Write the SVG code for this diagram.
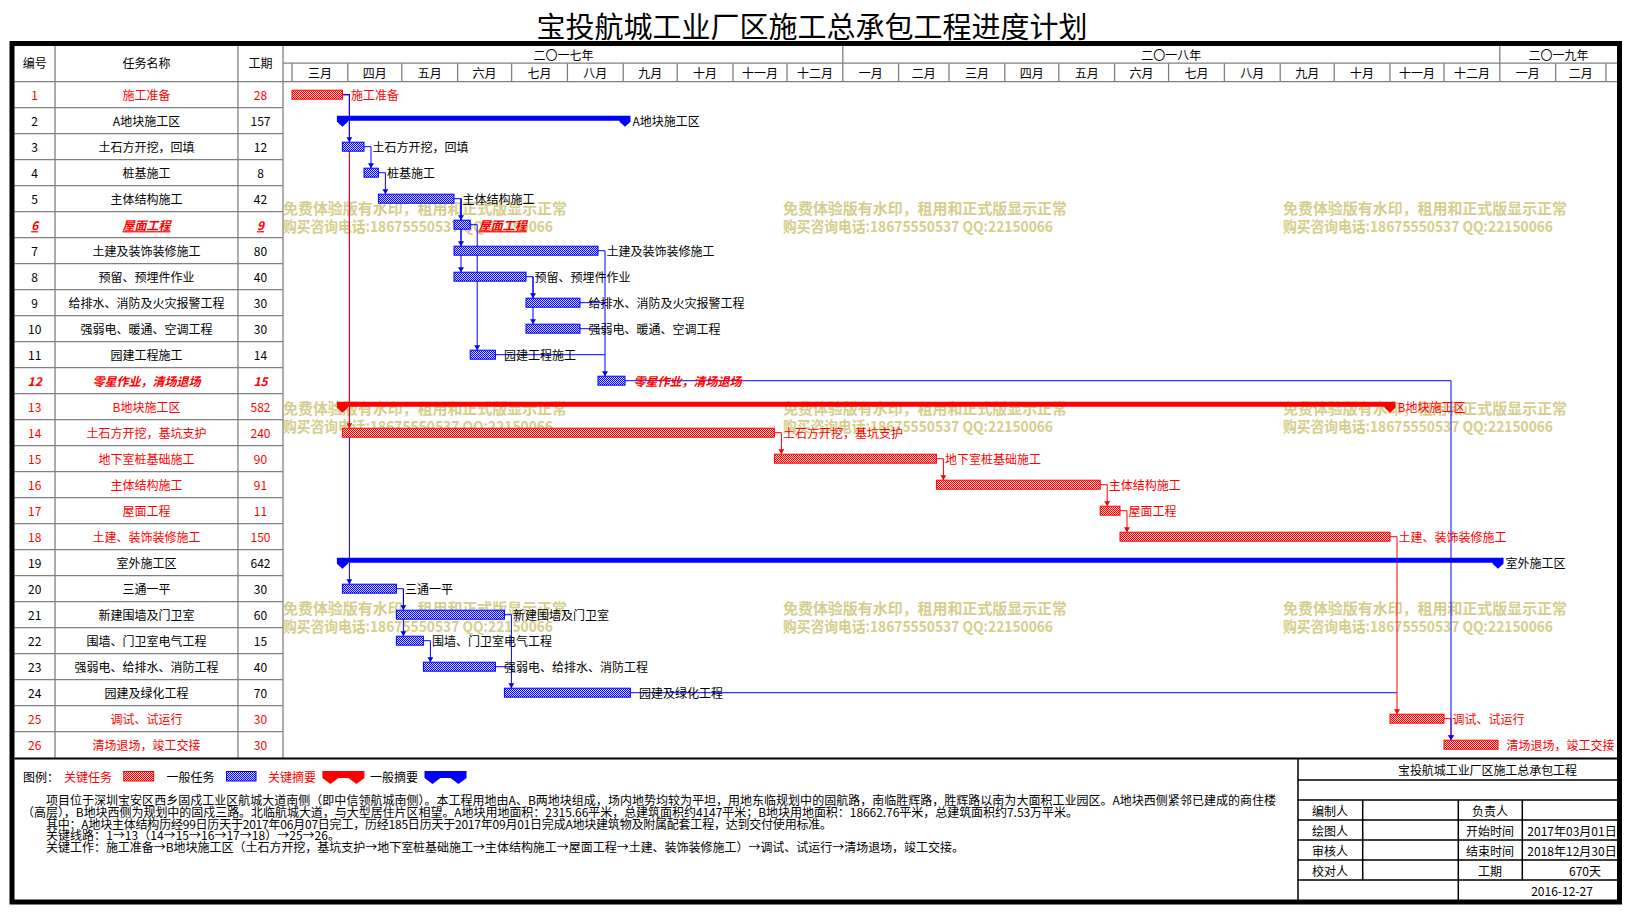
<svg xmlns="http://www.w3.org/2000/svg" width="1627" height="912" viewBox="0 0 1627 912">
<defs>
<style>
text{font-family:"Noto Sans CJK SC","Liberation Sans",sans-serif;font-size:12px;fill:#000;dominant-baseline:central}
.c{text-anchor:middle}
.r{fill:#f00}
.bi{font-weight:bold;font-style:italic}
.u{text-decoration:underline}
.grid{stroke:#808080;stroke-width:1.3;fill:none}
.blk{stroke:#000;stroke-width:1.5;fill:none}
.lb{stroke:#00f;stroke-width:1;fill:none}
.lr{stroke:#f00;stroke-width:1;fill:none}
.ab{marker-end:url(#ab)}
.ar{marker-end:url(#ar)}
.tr{fill:url(#pr);stroke:#f00;stroke-width:1}
.tb{fill:url(#pb);stroke:#00f;stroke-width:1}
.sr{fill:#f00}
.sb{fill:#00f}
.wm{fill:#d6ce8c;font-size:15px;font-weight:bold}
.title{font-size:29px}
</style>
<pattern id="pr" width="2" height="2" patternUnits="userSpaceOnUse"><rect width="2" height="2" fill="#ffd6d6"/><rect width="1" height="1" fill="#f00"/><rect x="1" y="1" width="1" height="1" fill="#f00"/></pattern>
<pattern id="pb" width="2" height="2" patternUnits="userSpaceOnUse"><rect width="2" height="2" fill="#d6d6ff"/><rect width="1" height="1" fill="#00f"/><rect x="1" y="1" width="1" height="1" fill="#00f"/></pattern>
<marker id="ab" viewBox="0 0 10 12" refX="10" refY="6" markerWidth="5" markerHeight="6" markerUnits="userSpaceOnUse" orient="auto"><path d="M0,0 L10,6 L0,12 z" fill="#00f"/></marker>
<marker id="ar" viewBox="0 0 10 12" refX="10" refY="6" markerWidth="5" markerHeight="6" markerUnits="userSpaceOnUse" orient="auto"><path d="M0,0 L10,6 L0,12 z" fill="#f00"/></marker>
</defs>
<rect width="1627" height="912" fill="#fff"/>
<text class="title c" x="812" y="24.5">宝投航城工业厂区施工总承包工程进度计划</text>

<g id="grid">
<path class="grid" d="M55,46 V758 M238,46 V758 M283,46 V758 M14.5,81.7 H1617 M283,63.2 H1617"/>
<path class="grid" d="M14.5,107.7 H283 M14.5,133.7 H283 M14.5,159.7 H283 M14.5,185.7 H283 M14.5,211.7 H283 M14.5,237.7 H283 M14.5,263.7 H283 M14.5,289.7 H283 M14.5,315.7 H283 M14.5,341.7 H283 M14.5,367.7 H283 M14.5,393.7 H283 M14.5,419.7 H283 M14.5,445.7 H283 M14.5,471.7 H283 M14.5,497.7 H283 M14.5,523.7 H283 M14.5,549.7 H283 M14.5,575.7 H283 M14.5,601.7 H283 M14.5,627.7 H283 M14.5,653.7 H283 M14.5,679.7 H283 M14.5,705.7 H283 M14.5,731.7 H283"/>
<path class="grid" d="M292,63.2 V81.7 M347.8,63.2 V81.7 M401.8,63.2 V81.7 M457.6,63.2 V81.7 M511.6,63.2 V81.7 M567.4,63.2 V81.7 M623.2,63.2 V81.7 M677.2,63.2 V81.7 M733,63.2 V81.7 M787,63.2 V81.7 M842.8,46 V81.7 M898.6,63.2 V81.7 M949,63.2 V81.7 M1004.8,63.2 V81.7 M1058.8,63.2 V81.7 M1114.6,63.2 V81.7 M1168.6,63.2 V81.7 M1224.4,63.2 V81.7 M1280.2,63.2 V81.7 M1334.2,63.2 V81.7 M1390,63.2 V81.7 M1444,63.2 V81.7 M1499.8,46 V81.7 M1555.6,63.2 V81.7 M1606,63.2 V81.7"/>
<text class="c" x="34.7" y="62.8">编号</text>
<text class="c" x="146.5" y="62.8">任务名称</text>
<text class="c" x="260.5" y="62.8">工期</text>
<text class="c" x="563.4" y="54.6">二〇一七年</text>
<text class="c" x="1171.3" y="54.6">二〇一八年</text>
<text class="c" x="1558.4" y="54.6">二〇一九年</text>
<text class="c" x="319.9" y="72.5">三月</text>
<text class="c" x="374.8" y="72.5">四月</text>
<text class="c" x="429.7" y="72.5">五月</text>
<text class="c" x="484.6" y="72.5">六月</text>
<text class="c" x="539.5" y="72.5">七月</text>
<text class="c" x="595.3" y="72.5">八月</text>
<text class="c" x="650.2" y="72.5">九月</text>
<text class="c" x="705.1" y="72.5">十月</text>
<text class="c" x="760" y="72.5">十一月</text>
<text class="c" x="814.9" y="72.5">十二月</text>
<text class="c" x="870.7" y="72.5">一月</text>
<text class="c" x="923.8" y="72.5">二月</text>
<text class="c" x="976.9" y="72.5">三月</text>
<text class="c" x="1031.8" y="72.5">四月</text>
<text class="c" x="1086.7" y="72.5">五月</text>
<text class="c" x="1141.6" y="72.5">六月</text>
<text class="c" x="1196.5" y="72.5">七月</text>
<text class="c" x="1252.3" y="72.5">八月</text>
<text class="c" x="1307.2" y="72.5">九月</text>
<text class="c" x="1362.1" y="72.5">十月</text>
<text class="c" x="1417" y="72.5">十一月</text>
<text class="c" x="1471.9" y="72.5">十二月</text>
<text class="c" x="1527.7" y="72.5">一月</text>
<text class="c" x="1580.8" y="72.5">二月</text>
</g>

<g id="watermarks">
<text class="wm" x="283" y="207.5" textLength="284" lengthAdjust="spacingAndGlyphs">免费体验版有水印，租用和正式版显示正常</text>
<text class="wm" x="283" y="225" textLength="270" lengthAdjust="spacingAndGlyphs">购买咨询电话:18675550537 QQ:22150066</text>
<text class="wm" x="783" y="207.5" textLength="284" lengthAdjust="spacingAndGlyphs">免费体验版有水印，租用和正式版显示正常</text>
<text class="wm" x="783" y="225" textLength="270" lengthAdjust="spacingAndGlyphs">购买咨询电话:18675550537 QQ:22150066</text>
<text class="wm" x="1283" y="207.5" textLength="284" lengthAdjust="spacingAndGlyphs">免费体验版有水印，租用和正式版显示正常</text>
<text class="wm" x="1283" y="225" textLength="270" lengthAdjust="spacingAndGlyphs">购买咨询电话:18675550537 QQ:22150066</text>
<text class="wm" x="283" y="407.5" textLength="284" lengthAdjust="spacingAndGlyphs">免费体验版有水印，租用和正式版显示正常</text>
<text class="wm" x="283" y="425" textLength="270" lengthAdjust="spacingAndGlyphs">购买咨询电话:18675550537 QQ:22150066</text>
<text class="wm" x="783" y="407.5" textLength="284" lengthAdjust="spacingAndGlyphs">免费体验版有水印，租用和正式版显示正常</text>
<text class="wm" x="783" y="425" textLength="270" lengthAdjust="spacingAndGlyphs">购买咨询电话:18675550537 QQ:22150066</text>
<text class="wm" x="1283" y="407.5" textLength="284" lengthAdjust="spacingAndGlyphs">免费体验版有水印，租用和正式版显示正常</text>
<text class="wm" x="1283" y="425" textLength="270" lengthAdjust="spacingAndGlyphs">购买咨询电话:18675550537 QQ:22150066</text>
<text class="wm" x="283" y="607.5" textLength="284" lengthAdjust="spacingAndGlyphs">免费体验版有水印，租用和正式版显示正常</text>
<text class="wm" x="283" y="625" textLength="270" lengthAdjust="spacingAndGlyphs">购买咨询电话:18675550537 QQ:22150066</text>
<text class="wm" x="783" y="607.5" textLength="284" lengthAdjust="spacingAndGlyphs">免费体验版有水印，租用和正式版显示正常</text>
<text class="wm" x="783" y="625" textLength="270" lengthAdjust="spacingAndGlyphs">购买咨询电话:18675550537 QQ:22150066</text>
<text class="wm" x="1283" y="607.5" textLength="284" lengthAdjust="spacingAndGlyphs">免费体验版有水印，租用和正式版显示正常</text>
<text class="wm" x="1283" y="625" textLength="270" lengthAdjust="spacingAndGlyphs">购买咨询电话:18675550537 QQ:22150066</text>
</g>

<g id="connectors">
<path class="lb ab" d="M342.4,94.7 H349.4 V584.2"/>
<path class="lr ar" d="M342.4,94.7 H349.4 V428.2"/>
<path class="lb ab" d="M342.4,94.7 H349.4 V142.2"/>
<path class="lb ab" d="M364,146.7 H371 V168.2"/>
<path class="lb ab" d="M378.4,172.7 H385.4 V194.2"/>
<path class="lb ab" d="M454,198.7 H461 V220.2"/>
<path class="lb ab" d="M461,198.7 V246.2"/>
<path class="lb ab" d="M461,198.7 V272.2"/>
<path class="lb ab" d="M470.2,224.7 H477.2 V350.2"/>
<path class="lb ab" d="M526,276.7 H533 V298.2"/>
<path class="lb ab" d="M533,276.7 V324.2"/>
<path class="lb ab" d="M598,250.7 H605 V376.2"/>
<path class="lb" d="M580,302.7 H605 M580,328.7 H605 M495.4,354.7 H605"/>
<path class="lr ar" d="M1444,718.7 H1451 V740.2"/>
<path class="lb ab" d="M625,380.7 H1451 V740.2"/>
<path class="lr ar" d="M774.4,432.7 H781.4 V454.2"/>
<path class="lr ar" d="M936.4,458.7 H943.4 V480.2"/>
<path class="lr ar" d="M1100.2,484.7 H1107.2 V506.2"/>
<path class="lr ar" d="M1120,510.7 H1127 V532.2"/>
<path class="lb ab" d="M396.4,588.7 H403.4 V610.2"/>
<path class="lb ab" d="M403.4,588.7 V636.2"/>
<path class="lb ab" d="M423.4,640.7 H430.4 V662.2"/>
<path class="lb ab" d="M504.4,614.7 H511.4 V688.2"/>
<path class="lb" d="M495.4,666.7 H511.4 M630.4,692.7 H1397"/>
<path class="lr ar" d="M1390,536.7 H1397 V714.2"/>
</g>

<g id="row-1"><text class="c r" x="34.7" y="94.7">1</text><text class="c r" x="146.5" y="94.7">施工准备</text><text class="c r" x="260.5" y="94.7">28</text><rect class="tr" x="292" y="90.2" width="50.4" height="9"/><text class="r" x="350.9" y="94.7">施工准备</text></g>
<g id="row-2"><text class="c" x="34.7" y="120.7">2</text><text class="c" x="146.5" y="120.7">A地块施工区</text><text class="c" x="260.5" y="120.7">157</text><path class="sb" d="M336.9,115.7 H630.5 V121.7 L625,126.7 L619.5,121.7 V120.7 H347.9 V121.7 L342.4,126.7 L336.9,121.7 Z"/><text x="632.5" y="120.7">A地块施工区</text></g>
<g id="row-3"><text class="c" x="34.7" y="146.7">3</text><text class="c" x="146.5" y="146.7">土石方开挖，回填</text><text class="c" x="260.5" y="146.7">12</text><rect class="tb" x="342.4" y="142.2" width="21.6" height="9"/><text x="372.5" y="146.7">土石方开挖，回填</text></g>
<g id="row-4"><text class="c" x="34.7" y="172.7">4</text><text class="c" x="146.5" y="172.7">桩基施工</text><text class="c" x="260.5" y="172.7">8</text><rect class="tb" x="364" y="168.2" width="14.4" height="9"/><text x="386.9" y="172.7">桩基施工</text></g>
<g id="row-5"><text class="c" x="34.7" y="198.7">5</text><text class="c" x="146.5" y="198.7">主体结构施工</text><text class="c" x="260.5" y="198.7">42</text><rect class="tb" x="378.4" y="194.2" width="75.6" height="9"/><text x="462.5" y="198.7">主体结构施工</text></g>
<g id="row-6"><text class="c r bi u" x="34.7" y="224.7">6</text><text class="c r bi u" x="146.5" y="224.7">屋面工程</text><text class="c r bi u" x="260.5" y="224.7">9</text><rect class="tb" x="454" y="220.2" width="16.2" height="9"/><text class="r bi u" x="478.7" y="224.7">屋面工程</text></g>
<g id="row-7"><text class="c" x="34.7" y="250.7">7</text><text class="c" x="146.5" y="250.7">土建及装饰装修施工</text><text class="c" x="260.5" y="250.7">80</text><rect class="tb" x="454" y="246.2" width="144" height="9"/><text x="606.5" y="250.7">土建及装饰装修施工</text></g>
<g id="row-8"><text class="c" x="34.7" y="276.7">8</text><text class="c" x="146.5" y="276.7">预留、预埋件作业</text><text class="c" x="260.5" y="276.7">40</text><rect class="tb" x="454" y="272.2" width="72" height="9"/><text x="534.5" y="276.7">预留、预埋件作业</text></g>
<g id="row-9"><text class="c" x="34.7" y="302.7">9</text><text class="c" x="146.5" y="302.7">给排水、消防及火灾报警工程</text><text class="c" x="260.5" y="302.7">30</text><rect class="tb" x="526" y="298.2" width="54" height="9"/><text x="588.5" y="302.7">给排水、消防及火灾报警工程</text></g>
<g id="row-10"><text class="c" x="34.7" y="328.7">10</text><text class="c" x="146.5" y="328.7">强弱电、暖通、空调工程</text><text class="c" x="260.5" y="328.7">30</text><rect class="tb" x="526" y="324.2" width="54" height="9"/><text x="588.5" y="328.7">强弱电、暖通、空调工程</text></g>
<g id="row-11"><text class="c" x="34.7" y="354.7">11</text><text class="c" x="146.5" y="354.7">园建工程施工</text><text class="c" x="260.5" y="354.7">14</text><rect class="tb" x="470.2" y="350.2" width="25.2" height="9"/><text x="503.9" y="354.7">园建工程施工</text></g>
<g id="row-12"><text class="c r bi" x="34.7" y="380.7">12</text><text class="c r bi" x="146.5" y="380.7">零星作业，清场退场</text><text class="c r bi" x="260.5" y="380.7">15</text><rect class="tb" x="598" y="376.2" width="27" height="9"/><text class="r bi" x="633.5" y="380.7">零星作业，清场退场</text></g>
<g id="row-13"><text class="c r" x="34.7" y="406.7">13</text><text class="c r" x="146.5" y="406.7">B地块施工区</text><text class="c r" x="260.5" y="406.7">582</text><path class="sr" d="M336.9,401.7 H1395.5 V407.7 L1390,412.7 L1384.5,407.7 V406.7 H347.9 V407.7 L342.4,412.7 L336.9,407.7 Z"/><text class="r" x="1397.5" y="406.7">B地块施工区</text></g>
<g id="row-14"><text class="c r" x="34.7" y="432.7">14</text><text class="c r" x="146.5" y="432.7">土石方开挖，基坑支护</text><text class="c r" x="260.5" y="432.7">240</text><rect class="tr" x="342.4" y="428.2" width="432" height="9"/><text class="r" x="782.9" y="432.7">土石方开挖，基坑支护</text></g>
<g id="row-15"><text class="c r" x="34.7" y="458.7">15</text><text class="c r" x="146.5" y="458.7">地下室桩基础施工</text><text class="c r" x="260.5" y="458.7">90</text><rect class="tr" x="774.4" y="454.2" width="162" height="9"/><text class="r" x="944.9" y="458.7">地下室桩基础施工</text></g>
<g id="row-16"><text class="c r" x="34.7" y="484.7">16</text><text class="c r" x="146.5" y="484.7">主体结构施工</text><text class="c r" x="260.5" y="484.7">91</text><rect class="tr" x="936.4" y="480.2" width="163.8" height="9"/><text class="r" x="1108.7" y="484.7">主体结构施工</text></g>
<g id="row-17"><text class="c r" x="34.7" y="510.7">17</text><text class="c r" x="146.5" y="510.7">屋面工程</text><text class="c r" x="260.5" y="510.7">11</text><rect class="tr" x="1100.2" y="506.2" width="19.8" height="9"/><text class="r" x="1128.5" y="510.7">屋面工程</text></g>
<g id="row-18"><text class="c r" x="34.7" y="536.7">18</text><text class="c r" x="146.5" y="536.7">土建、装饰装修施工</text><text class="c r" x="260.5" y="536.7">150</text><rect class="tr" x="1120" y="532.2" width="270" height="9"/><text class="r" x="1398.5" y="536.7">土建、装饰装修施工</text></g>
<g id="row-19"><text class="c" x="34.7" y="562.7">19</text><text class="c" x="146.5" y="562.7">室外施工区</text><text class="c" x="260.5" y="562.7">642</text><path class="sb" d="M336.9,557.7 H1503.5 V563.7 L1498,568.7 L1492.5,563.7 V562.7 H347.9 V563.7 L342.4,568.7 L336.9,563.7 Z"/><text x="1505.5" y="562.7">室外施工区</text></g>
<g id="row-20"><text class="c" x="34.7" y="588.7">20</text><text class="c" x="146.5" y="588.7">三通一平</text><text class="c" x="260.5" y="588.7">30</text><rect class="tb" x="342.4" y="584.2" width="54" height="9"/><text x="404.9" y="588.7">三通一平</text></g>
<g id="row-21"><text class="c" x="34.7" y="614.7">21</text><text class="c" x="146.5" y="614.7">新建围墙及门卫室</text><text class="c" x="260.5" y="614.7">60</text><rect class="tb" x="396.4" y="610.2" width="108" height="9"/><text x="512.9" y="614.7">新建围墙及门卫室</text></g>
<g id="row-22"><text class="c" x="34.7" y="640.7">22</text><text class="c" x="146.5" y="640.7">围墙、门卫室电气工程</text><text class="c" x="260.5" y="640.7">15</text><rect class="tb" x="396.4" y="636.2" width="27" height="9"/><text x="431.9" y="640.7">围墙、门卫室电气工程</text></g>
<g id="row-23"><text class="c" x="34.7" y="666.7">23</text><text class="c" x="146.5" y="666.7">强弱电、给排水、消防工程</text><text class="c" x="260.5" y="666.7">40</text><rect class="tb" x="423.4" y="662.2" width="72" height="9"/><text x="503.9" y="666.7">强弱电、给排水、消防工程</text></g>
<g id="row-24"><text class="c" x="34.7" y="692.7">24</text><text class="c" x="146.5" y="692.7">园建及绿化工程</text><text class="c" x="260.5" y="692.7">70</text><rect class="tb" x="504.4" y="688.2" width="126" height="9"/><text x="638.9" y="692.7">园建及绿化工程</text></g>
<g id="row-25"><text class="c r" x="34.7" y="718.7">25</text><text class="c r" x="146.5" y="718.7">调试、试运行</text><text class="c r" x="260.5" y="718.7">30</text><rect class="tr" x="1390" y="714.2" width="54" height="9"/><text class="r" x="1452.5" y="718.7">调试、试运行</text></g>
<g id="row-26"><text class="c r" x="34.7" y="744.7">26</text><text class="c r" x="146.5" y="744.7">清场退场，竣工交接</text><text class="c r" x="260.5" y="744.7">30</text><rect class="tr" x="1444" y="740.2" width="54" height="9"/><text class="r" x="1506.5" y="744.7">清场退场，竣工交接</text></g>

<g id="legend">
<path d="M14.5,758.5 H1617" stroke="#000" stroke-width="2"/>
<text x="23" y="776">图例：</text>
<text class="r" x="64" y="776">关键任务</text>
<rect class="tr" x="123.7" y="771.5" width="30" height="9.5"/>
<text x="166.5" y="776">一般任务</text>
<rect class="tb" x="226.5" y="771.5" width="29.5" height="9.5"/>
<text class="r" x="268" y="776">关键摘要</text>
<path class="sr" d="M322.4,771 H364.4 V778 L356.4,784 L348.4,778 H338.4 L330.4,784 L322.4,778 Z"/>
<text x="370" y="776">一般摘要</text>
<path class="sb" d="M424.5,771 H466.5 V778 L458.5,784 L450.5,778 H440.5 L432.5,784 L424.5,778 Z"/>
</g>

<g id="notes">
<text x="46" y="799" textLength="1230" lengthAdjust="spacing">项目位于深圳宝安区西乡固戍工业区航城大道南侧（即中信领航城南侧）。本工程用地由A、B两地块组成，场内地势均较为平坦，用地东临规划中的固航路，南临胜辉路，胜辉路以南为大面积工业园区。A地块西侧紧邻已建成的商住楼</text>
<text x="22" y="811" textLength="1056" lengthAdjust="spacing">（高层），B地块西侧为规划中的固戍三路。北临航城大道，与大型居住片区相望。A地块用地面积：2315.66平米，总建筑面积约4147平米；B地块用地面积：18662.76平米，总建筑面积约7.53万平米。</text>
<text x="46" y="823" textLength="786" lengthAdjust="spacing">其中：A地块主体结构历经99日历天于2017年06月07日完工，历经185日历天于2017年09月01日完成A地块建筑物及附属配套工程，达到交付使用标准。</text>
<text x="46" y="834.5" textLength="294" lengthAdjust="spacing">关键线路：1→13（14→15→16→17→18）→25→26。</text>
<text x="46" y="846.5" textLength="918" lengthAdjust="spacing">关键工作：施工准备→B地块施工区（土石方开挖，基坑支护→地下室桩基础施工→主体结构施工→屋面工程→土建、装饰装修施工）→调试、试运行→清场退场，竣工交接。</text>
</g>

<g id="info-table">
<path class="blk" d="M1298,759 V901 M1298,780 H1617 M1298,800 H1617 M1298,820 H1617 M1298,840 H1617 M1298,860 H1617 M1298,880 H1617 M1362.7,800 V880 M1458.3,800 V901 M1522.3,800 V880"/>
<text x="1398" y="769.6" textLength="179" lengthAdjust="spacing">宝投航城工业厂区施工总承包工程</text>
<text class="c" x="1330" y="810">编制人</text>
<text class="c" x="1490" y="810">负责人</text>
<text class="c" x="1330" y="830">绘图人</text>
<text class="c" x="1490" y="830">开始时间</text>
<text class="c" x="1572" y="830">2017年03月01日</text>
<text class="c" x="1330" y="850">审核人</text>
<text class="c" x="1490" y="850">结束时间</text>
<text class="c" x="1572" y="850">2018年12月30日</text>
<text class="c" x="1330" y="870">校对人</text>
<text class="c" x="1490" y="870">工期</text>
<text class="c" x="1585" y="870">670天</text>
<text class="c" x="1562" y="890">2016-12-27</text>
</g>

<rect x="12" y="43.5" width="1607.5" height="858.5" fill="none" stroke="#000" stroke-width="5"/>
</svg>
